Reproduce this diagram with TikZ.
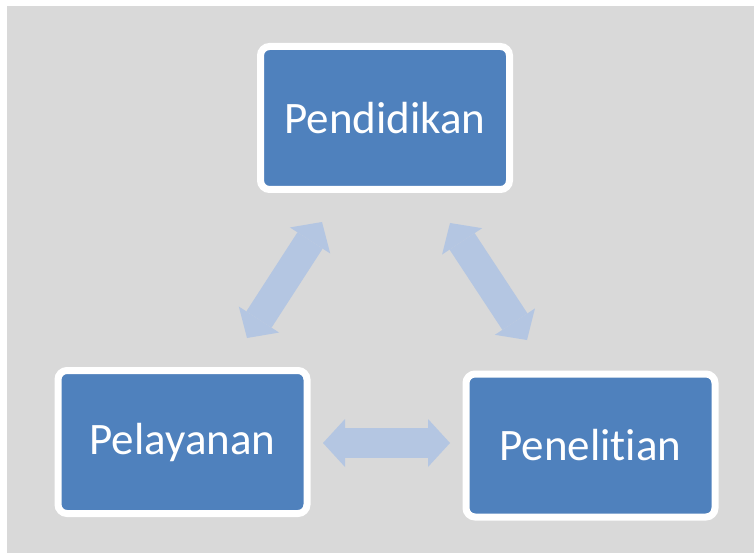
\documentclass[tikz,border=0pt]{standalone}
\usepackage{fontspec}
\setmainfont{Carlito}[Ligatures=NoCommon]
\usetikzlibrary{arrows.meta}
\definecolor{panelgray}{HTML}{D9D9D9}
\definecolor{boxblue}{HTML}{4F81BD}
\definecolor{arrowblue}{HTML}{B4C6E2}
\tikzset{
  topic/.style={fill=boxblue, draw=white, line width=7pt, rounded corners=9pt,
    minimum width=249pt, minimum height=143pt, inner sep=0pt,
    text=white, font=\fontsize{45}{54}\selectfont},
  link/.style={draw=arrowblue, line width=30pt,
    {Triangle[length=22pt,width=48pt,line width=0pt]}-{Triangle[length=22pt,width=48pt,line width=0pt]}}
}
\begin{document}
\begin{tikzpicture}[x=1pt,y=-1pt]
  % canvas and grey panel
  \fill[white] (0,0) rectangle (754,553);
  \fill[panelgray] (7,6) rectangle (754,553);
  \useasboundingbox (0,0) rectangle (754,553);

  % the three boxes
  \node[topic] (pend) at (385,118) {Pendidikan};
  \node[topic] (pely) at (182.5,442) {Pelayanan};
  \node[topic] (pene) at (590.5,445.5) {Penelitian};

  % end points of the double-headed block arrows
  \coordinate (lb) at (247,338);
  \coordinate (lt) at (322,222);
  \coordinate (rt) at (450,223);
  \coordinate (rb) at (527,340);
  \coordinate (hl) at (323,443);
  \coordinate (hr) at (450,443);

  \draw[link] (lb) -- (lt);
  \draw[link] (rt) -- (rb);
  \draw[link] (hl) -- (hr);
\end{tikzpicture}
\end{document}
